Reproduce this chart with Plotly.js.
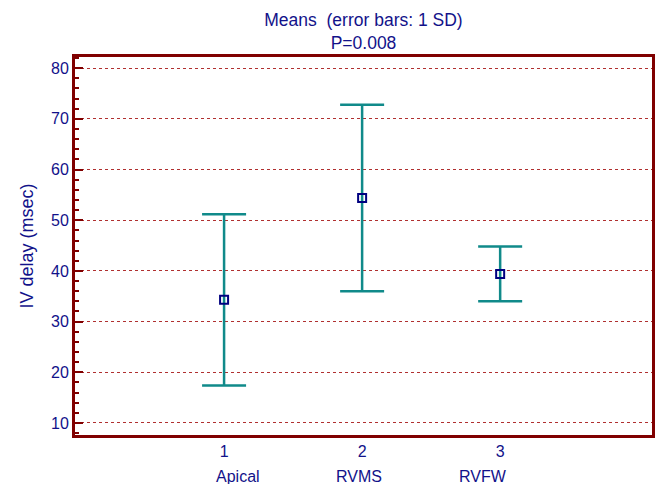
<!DOCTYPE html>
<html>
<head>
<meta charset="utf-8">
<script src="https://cdn.plot.ly/plotly-3.0.1.min.js"></script>
<style>html,body{margin:0;padding:0;background:#fff;}#chart{width:664px;height:484px;}</style>
</head>
<body>
<div id="chart"></div>
<script>
var groupPos = [1, 2, 3];
var groupNames = ["Apical", "RVMS", "RVFW"];
var means = [34.3, 54.4, 39.4];
var sds = [16.9, 18.4, 5.4];
var yTicks = [10, 20, 30, 40, 50, 60, 70, 80];

var navy = "#12128a";
var frame = "#800000";
var fontFam = "Liberation Sans, Arial, sans-serif";
var nameShift = [14, -3, -17];

var trace = {
  type: "scatter",
  mode: "markers",
  x: groupPos,
  y: means,
  marker: { symbol: "square-open", size: 8, color: "#000080", line: { width: 2, color: "#000080" } },
  error_y: { type: "data", array: sds, visible: true, color: "#108a8a", thickness: 2.5, width: 22 },
  hoverinfo: "none"
};

var annotations = groupNames.map(function (n, i) {
  return {
    text: n, x: groupPos[i], xref: "x", y: -0.1085, yref: "paper",
    xanchor: "center", yanchor: "middle", showarrow: false, xshift: nameShift[i],
    font: { family: fontFam, size: 16, color: navy }
  };
});

var layout = {
  width: 664, height: 484,
  margin: { l: 75, r: 12, t: 57, b: 49 },
  paper_bgcolor: "#ffffff", plot_bgcolor: "#ffffff",
  showlegend: false,
  font: { family: fontFam, size: 16, color: navy },
  title: {
    text: "Means  (error bars: 1 SD)<br>P=0.008",
    font: { family: fontFam, size: 17.5, color: navy },
    x: 0.5, xanchor: "center", xref: "paper",
    yref: "container", y: 0.946, yanchor: "middle"
  },
  annotations: annotations,
  xaxis: {
    range: [-0.08, 4.1],
    tickmode: "array", tickvals: groupPos,
    ticks: "", showgrid: false, zeroline: false,
    showline: true, mirror: true, linecolor: frame, linewidth: 3,
    tickfont: { size: 16, color: navy }
  },
  yaxis: {
    range: [7.63, 82.2],
    tickmode: "array", tickvals: yTicks,
    ticks: "inside", ticklen: 8, tickwidth: 2, tickcolor: frame,
    minor: { ticks: "inside", ticklen: 4, tickwidth: 2, tickcolor: frame, dtick: 2, showgrid: false },
    showgrid: true, gridcolor: "#b03030", griddash: "dot", gridwidth: 1,
    zeroline: false,
    showline: true, mirror: true, linecolor: frame, linewidth: 3,
    tickfont: { size: 16, color: navy },
    title: { text: "IV delay (msec)", font: { size: 18, color: navy }, standoff: 13 }
  }
};

Plotly.newPlot("chart", [trace], layout, { displayModeBar: false, staticPlot: true });
</script>
</body>
</html>
